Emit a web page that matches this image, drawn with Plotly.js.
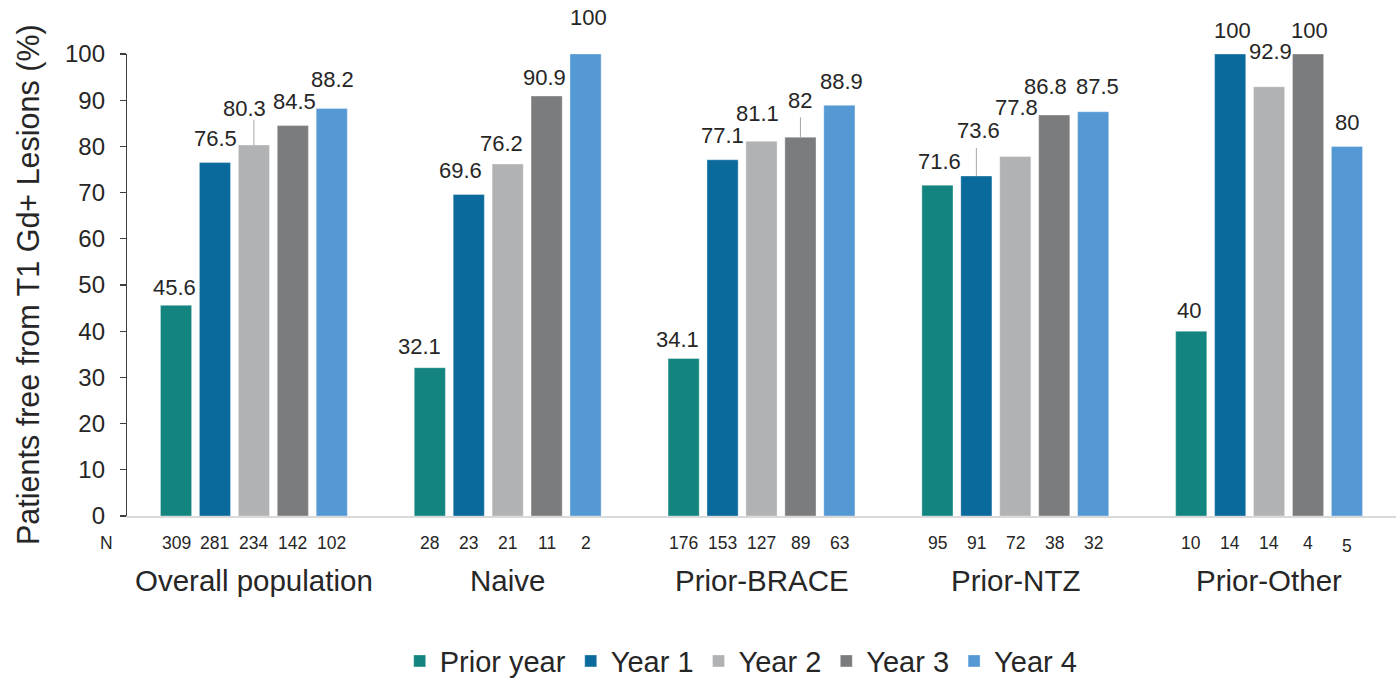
<!DOCTYPE html>
<html>
<head>
<meta charset="utf-8">
<script src="https://cdn.plot.ly/plotly-3.0.1.min.js"></script>
<style>html,body{margin:0;padding:0;background:#fff;}#chart{width:1400px;height:678px;}</style>
</head>
<body>
<div id="chart"></div>
<script>
// ---- data ----
const groups = ['Overall population', 'Naive', 'Prior-BRACE', 'Prior-NTZ', 'Prior-Other'];
const seriesNames = ['Prior year', 'Year 1', 'Year 2', 'Year 3', 'Year 4'];
const priorYear = [45.6, 32.1, 34.1, 71.6, 40];
const year1 = [76.5, 69.6, 77.1, 73.6, 100];
const year2 = [80.3, 76.2, 81.1, 77.8, 92.9];
const year3 = [84.5, 90.9, 82, 86.8, 100];
const year4 = [88.2, 100, 88.9, 87.5, 80];
const nPrior = [309, 28, 176, 95, 10];
const nYear1 = [281, 23, 153, 91, 14];
const nYear2 = [234, 21, 127, 72, 14];
const nYear3 = [142, 11, 89, 38, 4];
const nYear4 = [102, 2, 63, 32, 5];
const nLabel = 'N';
const yTitle = 'Patients free from T1 Gd+ Lesions (%)';

// ---- styling ----
const colors = ['#13857E', '#0B6A9C', '#B1B2B4', '#7B7C7E', '#5499D3'];
const FONT = 'Liberation Sans, Arial, Helvetica, sans-serif';
const TXT = '#262626';
const bargap = 0.233;
const values = [priorYear, year1, year2, year3, year4];
const ns = [nPrior, nYear1, nYear2, nYear3, nYear4];
const nSeries = values.length;
const slot = (1 - bargap) / nSeries;
const gx = groups.map((g, i) => i);
const barX = (i, j) => i + (j - (nSeries - 1) / 2) * slot;

// label placement tweaks: [dx px, gap px from bar top to baseline] per group, per series
const nudges = [
  [[-2, 10], [1, 16], [-9, 29], [2, 16], [1, 21]],
  [[-10, 13], [-8, 16], [-6, 12], [-2, 11], [3, 29]],
  [[-6, 11], [0, 16], [-4, 20], [0, 29], [2, 16]],
  [[2, 16], [2, 37], [1, 41], [-9, 20], [4, 17]],
  [[-2, 13], [2, 16], [1, 27], [1, 16], [0, 16]]
];
// leader lines: [group, series, length px]
const leaders = [[0, 2, 25], [2, 3, 20], [3, 1, 28]];
const BASE = 5.5;

const traces = values.map((v, j) => ({
  type: 'bar',
  name: seriesNames[j],
  x: gx,
  y: v,
  marker: {color: colors[j], line: {color: 'rgba(255,255,255,0.35)', width: 1}},
  hoverinfo: 'skip'
}));

const annotations = [];
values.forEach((v, j) => {
  v.forEach((val, i) => {
    const nd = nudges[i][j];
    annotations.push({
      x: barX(i, j), y: val, xref: 'x', yref: 'y',
      text: String(val), showarrow: false,
      xanchor: 'center', yanchor: 'bottom',
      xshift: nd[0], yshift: nd[1] - BASE, borderpad: 0,
      font: {family: FONT, size: 22, color: TXT}
    });
    annotations.push({
      x: barX(i, j), y: 0, xref: 'x', yref: 'paper',
      text: String(ns[j][i]), showarrow: false,
      xanchor: 'center', yanchor: 'middle',
      yshift: (i === 4 && j === 4) ? -30 : -27,
      font: {family: FONT, size: 17.5, color: TXT}
    });
  });
});
groups.forEach((g, i) => {
  annotations.push({
    x: i, y: 0, xref: 'x', yref: 'paper', text: g, showarrow: false,
    xanchor: 'center', yanchor: 'middle', yshift: -64,
    font: {family: FONT, size: 29.5, color: TXT}
  });
});
annotations.push({
  x: -0.0165, y: 0, xref: 'paper', yref: 'paper', text: nLabel, showarrow: false,
  xanchor: 'center', yanchor: 'middle', yshift: -27,
  font: {family: FONT, size: 17.5, color: TXT}
});
// y-axis title
annotations.push({
  x: -0.078, y: 0.5, xref: 'paper', yref: 'paper', text: yTitle, showarrow: false,
  textangle: -90, xanchor: 'center', yanchor: 'middle',
  font: {family: FONT, size: 30.5, color: TXT}
});

const shapes = leaders.map(([i, j, len]) => ({
  type: 'line', xref: 'x', yref: 'y',
  x0: barX(i, j), x1: barX(i, j),
  ysizemode: 'pixel', yanchor: values[j][i], y0: 0, y1: len,
  line: {color: '#A6A6A6', width: 1}
}));

const layout = {
  width: 1400, height: 678,
  margin: {l: 127, r: 4, t: 54, b: 162, autoexpand: false},
  paper_bgcolor: '#fff', plot_bgcolor: '#fff',
  font: {family: FONT, color: TXT},
  barmode: 'group', bargap: bargap, bargroupgap: 0.2,
  showlegend: true,
  xaxis: {
    range: [-0.5, 4.5], showticklabels: false, ticks: '', showgrid: false, automargin: false,
    zeroline: false, showline: true, linecolor: '#D9D9D9', linewidth: 1.5, fixedrange: true
  },
  yaxis: {
    range: [0, 100], tick0: 0, dtick: 10, showgrid: false, zeroline: false, automargin: false,
    showline: true, linecolor: '#404040', linewidth: 1.2,
    ticks: 'outside', ticklen: 6, tickcolor: '#404040', tickwidth: 1.2,
    ticklabelstandoff: 10,
    tickfont: {family: FONT, size: 24, color: TXT},
    fixedrange: true
  },
  legend: {
    orientation: 'h', x: 0.484, xanchor: 'center', y: -0.314, yanchor: 'middle',
    font: {family: FONT, size: 29, color: TXT}, traceorder: 'normal'
  },
  annotations: annotations,
  shapes: shapes
};

Plotly.newPlot('chart', traces, layout, {displayModeBar: false, staticPlot: true});
</script>
</body>
</html>
